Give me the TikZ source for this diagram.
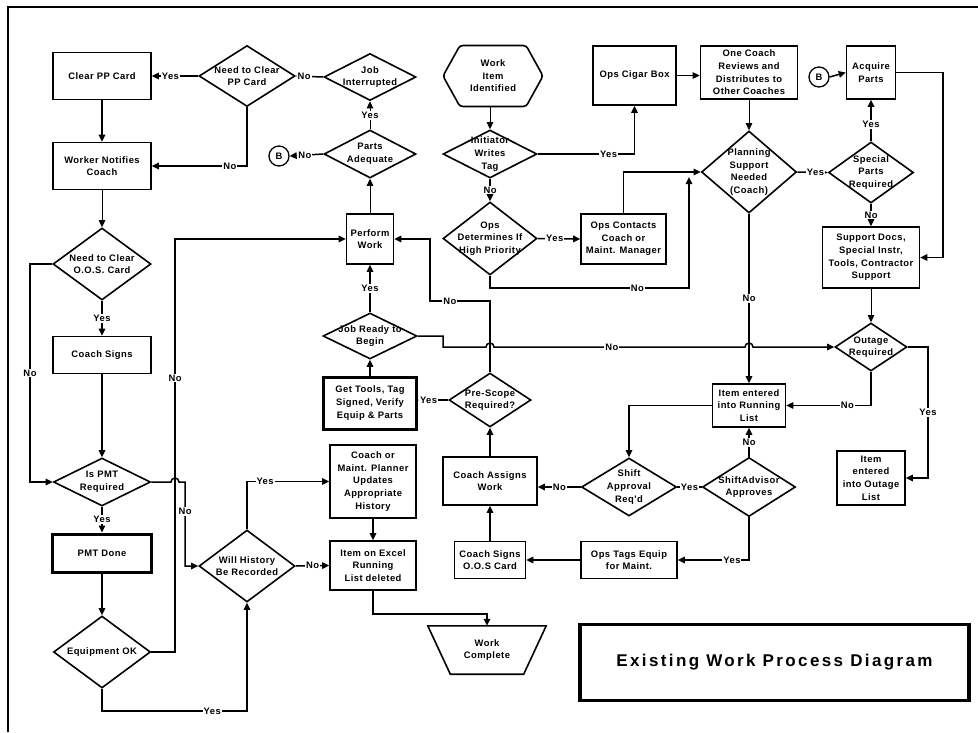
\documentclass[tikz,border=0pt]{standalone}
\usepackage{fontspec}
\newfontfamily\flowfont{Liberation Sans}[LetterSpace=5]
\newfontfamily\headfont{Liberation Sans}[LetterSpace=14]
\usetikzlibrary{arrows.meta,shapes.geometric,shapes.symbols}

\begin{document}
\begin{tikzpicture}[x=1pt,y=-1pt,
  txt/.style={font=\flowfont\bfseries\fontsize{9.4}{12.6}\selectfont},
  every label/.style={txt,align=center,inner sep=0pt},
  bx/.style 2 args={draw,line width=1.6pt,minimum width=#1pt,minimum height=#2pt,inner sep=0pt},
  thickbx/.style 2 args={bx={#1}{#2},line width=3pt},
  dm/.style 2 args={bx={#1}{#2},diamond},
  conn/.style={circle,draw,line width=1.3pt,minimum size=20pt,inner sep=0pt,txt},
  lbl/.style={txt,fill=white,inner sep=1pt},
  ln/.style={line width=1.5pt},
  ar/.style={ln,-{Triangle[length=7pt,width=6.5pt]}},
  tn/.style={line width=0.8pt,-{Triangle[length=7pt,width=6.5pt]}}
]
\useasboundingbox (0,0) rectangle (978,732);
% page frame
\draw[line width=1.2pt] (8,732) -- (8,7) -- (978,7);

% ---- left column ----
\node[bx={98}{47},label={center:{Clear PP Card}}] (clearpp) at (102,76) {};
\node[bx={98}{47},label={center:{Worker Notifies\\Coach}}] (notify) at (102,166) {};
\node[dm={98}{72},label={center:{Need to Clear\\O.O.S. Card}}] (needoos) at (102,264) {};
\node[bx={98}{37},label={center:{Coach Signs}}] (coachsigns) at (102,355) {};
\node[dm={97}{48},label={center:{Is PMT\\Required}}] (ispmt) at (102,482) {};
\node[thickbx={99}{38},label={center:{PMT Done}}] (pmtdone) at (102,553) {};
\node[dm={97}{72},label={center:{Equipment OK}}] (equipok) at (102,652) {};

% ---- second column ----
\node[dm={96}{61},label={center:{Need to Clear\\PP Card}}] (needpp) at (247,76) {};
\node[conn] (b1) at (279,156) {B};
\node[dm={96}{72},label={center:{Will History\\Be Recorded}}] (history) at (247,566) {};

% ---- third column ----
\node[dm={92}{47},label={center:{Job\\Interrupted}}] (jobint) at (370,77) {};
\node[dm={92}{48},label={center:{Parts\\Adequate}}] (parts) at (370,154) {};
\node[bx={47}{50},label={center:{Perform\\Work}}] (perform) at (370,239) {};
\node[dm={94}{46},label={center:{Job Ready to\\Begin}}] (jobready) at (370,336) {};
\node[thickbx={93}{52},label={center:{Get Tools, Tag\\Signed, Verify\\Equip \& Parts}}] (gettools) at (370,403) {};
\node[bx={86}{73},label={center:{Coach or\\Maint. Planner\\Updates\\Appropriate\\History}}] (planner) at (373,481.5) {};
\node[bx={86}{49},label={center:{Item on Excel\\Running\\List deleted}}] (excel) at (373,565.5) {};

% ---- fourth column ----
\node[draw,line width=1.6pt,signal,signal to=east and west,signal pointer angle=122,
      minimum width=100pt,minimum height=61pt,inner sep=0pt,rounded corners=3pt,
      label={center:{Work\\Item\\Identified}}] (workitem) at (493,76) {};
\node[dm={94}{48},label={center:{Initiator\\Writes\\Tag}}] (initiator) at (490,154) {};
\node[dm={94}{73},label={center:{Ops\\Determines If\\High Priority}}] (opsdet) at (490,238.5) {};
\node[dm={82}{54},label={center:{Pre-Scope\\Required?}}] (prescope) at (490,400) {};
\node[bx={94}{48},label={center:{Coach Assigns\\Work}}] (assigns) at (490,481) {};
\node[bx={71}{37},label={center:{Coach Signs\\O.O.S Card}}] (signsoos) at (490,560) {};
% terminal: inverted trapezoid, wide edge on top
\node[minimum width=118pt,minimum height=48pt,inner sep=0pt,
      label={center:{Work\\Complete}}] (complete) at (487,650) {};
\draw[line width=1.6pt,line join=miter] (complete.north west) -- (complete.north east)
  -- ([xshift=-22.5pt]complete.south east) -- ([xshift=22.5pt]complete.south west) -- cycle;

% ---- fifth column ----
\node[bx={83}{59},label={center:{Ops Cigar Box}}] (cigar) at (634.5,75.5) {};
\node[bx={85}{50},label={center:{Ops Contacts\\Coach or\\Maint. Manager}}] (contacts) at (623.5,239) {};
\node[dm={95}{58},label={center:{Shift\\Approval\\Req'd}}] (shiftapp) at (629,487) {};
\node[bx={96}{37},label={center:{Ops Tags Equip\\for Maint.}}] (opstags) at (629,560) {};

% ---- sixth column ----
\node[bx={97}{53},label={center:{One Coach\\Reviews and\\Distributes to\\Other Coaches}}] (onecoach) at (749,72.5) {};
\node[dm={95}{82},label={center:{Planning\\Support\\Needed\\(Coach)}}] (planning) at (749,172) {};
\node[bx={73}{43},label={center:{Item entered\\into Running\\List}}] (running) at (749,405.5) {};
\node[dm={93}{59},label={center:{ShiftAdvisor\\Approves}}] (advisor) at (749,487) {};

% ---- right column ----
\node[conn] (b2) at (819,77) {B};
\node[bx={49}{53},label={center:{Acquire\\Parts}}] (acquire) at (871,72.5) {};
\node[dm={85}{61},label={center:{Special\\Parts\\Required}}] (special) at (871,172.5) {};
\node[bx={97}{61},label={center:{Support Docs,\\Special Instr,\\Tools, Contractor\\Support}}] (support) at (871,257.5) {};
\node[dm={72}{48},label={center:{Outage\\Required}}] (outage) at (871,347) {};
\node[bx={68}{54},label={center:{Item\\entered\\into Outage\\List}}] (outlist) at (871,478) {};

% ---- title block ----
\node[draw,line width=3.5pt,minimum width=389pt,minimum height=76pt,
      font=\headfont\bfseries\fontsize{17}{20}\selectfont] (title) at (774.5,662.5)
      {Existing Work Process Diagram};

% ---- connectors ----
\draw[ar] (needpp.west) -- node[lbl,pos=0.6]{Yes} (clearpp.east);
\draw[ar] (clearpp.south) -- (notify.north);
\draw[ar] (needpp.south) |- node[lbl,pos=0.59]{No} (notify.east);
\draw[ar] (jobint.west) -- node[lbl,pos=0.7]{No} (needpp.east);
\draw[ar] (parts.west) -- node[lbl,pos=0.55]{No} (b1.east);
\draw[tn] (parts.north) -- node[lbl]{Yes} (jobint.south);
\draw[tn] (perform.north) -- (parts.south);
\draw[tn] (notify.south) -- (needoos.north);
\draw[ar] (needoos.south) -- node[lbl]{Yes} (coachsigns.north);
\draw[ar] (needoos.west) -- (30,264) -- node[lbl]{No} (30,482) -- (ispmt.west);
\draw[ar] (coachsigns.south) -- (ispmt.north);
\draw[ar] (ispmt.south) -- node[lbl]{Yes} (pmtdone.north);
\draw[ar] (pmtdone.south) -- (equipok.north);
\draw[ar] (equipok.east) -- (175,652) -- node[lbl,pos=0.663]{No} (175,239) -- (perform.west);
\draw[ar] (ispmt.east) -- (171,482) arc[start angle=180,end angle=360,radius=4]
      -- (185,482) -- node[lbl,pos=0.35]{No} (185,566) -- (history.west);
\draw[ar] (equipok.south) -- (102,711) -- node[lbl,pos=0.76]{Yes} (247,711) -- (history.south);
\draw[ar] (history.north) |- node[lbl,pos=0.61]{Yes} (planner.west);
\draw[ar] (history.east) -- node[lbl]{No} (excel.west);
\draw[ar] (planner.south) -- (excel.north);
\draw[ar] (excel.south) -- (373,614) -| (complete.north);
\draw[ar] (signsoos.north) -- (assigns.south);
\draw[ar] (opstags.west) -- (signsoos.east);
\draw[ar] (assigns.north) -- (prescope.south);
\draw[ar] (prescope.west) -- node[lbl,pos=0.65]{Yes} (prescope.west -| gettools.east);
\draw[ar] (gettools.north) -- (jobready.south);
\draw[ar] (jobready.north) -- node[lbl]{Yes} (perform.south);
\draw[ar] (prescope.north) -- (490,301) -- node[lbl,pos=0.67]{No} (430,301) -- (430,239) -- (perform.east);
\draw[ar] (jobready.east) -- (443,336) -- (443,347) -- (486,347)
      arc[start angle=180,end angle=360,radius=4] -- node[lbl,pos=0.47]{No} (745,347)
      arc[start angle=180,end angle=360,radius=4] -- (outage.west);
\draw[tn] (workitem.south -| initiator.north) -- (initiator.north);
\draw[ar] (initiator.east) -| node[lbl,pos=0.366]{Yes} (cigar.south);
\draw[ar] (initiator.south) -- node[lbl]{No} (opsdet.north);
\draw[ar] (opsdet.east) -- node[lbl,pos=0.4]{Yes} (contacts.west);
\draw[ar] (contacts.north) |- (planning.west);
\coordinate (pljoin) at (689,177);
\draw[ar] (opsdet.south) -- (490,288) -- node[lbl,pos=0.74]{No} (689,288) -- (pljoin);
\draw[tn] (cigar.east) -- (cigar.east -| onecoach.west);
\draw[tn] (onecoach.south) -- (planning.north);
\draw[ar] (planning.east) -- node[lbl,pos=0.6]{Yes} (special.west);
\draw[ar] (special.north) -- node[lbl,pos=0.4]{Yes} (acquire.south);
\draw[ar] (special.south) -- node[lbl]{No} (support.north);
\draw[ar] (b2.east) -- (acquire.west);
\draw[ar] (acquire.east) -- (943,72.5) -- (943,257.5) -- (support.east);
\draw[tn] (support.south) -- (outage.north);
\draw[ar] (planning.south) -- node[lbl]{No} (running.north);
\draw[ar] (outage.south) |- node[lbl,pos=0.64]{No} (running.east);
\draw[ar] (outage.east) -- (928,347) -- node[lbl]{Yes} (928,478) -- (outlist.east);
\draw[ar] (running.west) -| (shiftapp.north);
\draw[ar] (shiftapp.west) -- node[lbl]{No} (shiftapp.west -| assigns.east);
\draw[ln] (shiftapp.east) -- node[lbl]{Yes} (advisor.west);
\draw[ar] (advisor.north) -- node[lbl]{No} (running.south);
\draw[ar] (advisor.south) |- node[lbl,pos=0.62]{Yes} (opstags.east);
\end{tikzpicture}
\end{document}
